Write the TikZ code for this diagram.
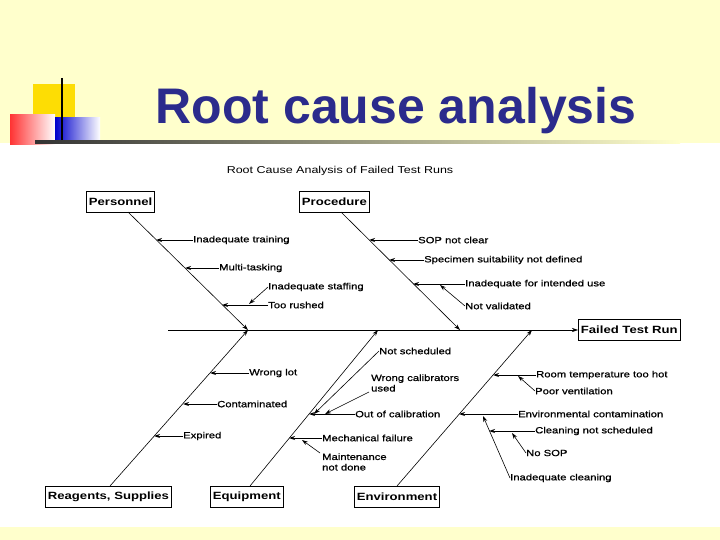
\documentclass[tikz,border=0pt]{standalone}
\usepackage{fontspec}
\setmainfont{Liberation Sans}
\newfontfamily\wide[FakeStretch=1.25]{Liberation Sans}
\newfontfamily\widelbl[FakeStretch=1.25,FakeBold=0.8]{Liberation Sans}
\usetikzlibrary{arrows.meta}
\definecolor{bgy}{HTML}{FFFFCC}
\definecolor{navy}{HTML}{2B2B8C}
\begin{document}
\begin{tikzpicture}[x=1pt,y=-1pt,
  box/.style={draw,thick,inner sep=2.5pt,font=\wide\bfseries\fontsize{10.5}{11}\selectfont,anchor=north west,minimum height=21pt},
  lbl/.style={font=\widelbl\fontsize{9}{10.5}\selectfont,inner sep=0pt,anchor=west,align=left},
  bone/.style={line width=0.6pt,-{Stealth[length=6pt,width=4pt]}},
  sub/.style={line width=1pt,-{Stealth[length=6pt,width=4pt]}}]
\useasboundingbox (0,0) rectangle (720,540);
\fill[bgy] (0,0) rectangle (720,540);
\fill[white] (0,143) rectangle (720,527);
% decoration
\fill[yellow!80!orange] (33,84) rectangle (75,120);
\shade[left color=red!80, right color=white] (10,115) rectangle (55,145);
\shade[left color=blue!80!black, right color=white] (55,118) rectangle (100,140);
\draw[line width=1.2pt] (62,78) -- (62,143);
\shade[left color=black!80, right color=bgy] (35,141) rectangle (680,143.5);
\node[font=\bfseries\fontsize{50}{54}\selectfont,text=navy] (title) at (396,111) {Root cause analysis};
\node[font=\wide\fontsize{10}{11}\selectfont] (sub) at (340,171) {Root Cause Analysis of Failed Test Runs};
% boxes
\node[box] (pers) at (86,191) {Personnel};
\node[box] (proc) at (299,191) {Procedure};
\node[box,anchor=west] (fail) at (578,330) {Failed Test Run};
\node[box] (reag) at (45,486) {Reagents, Supplies};
\node[box] (equi) at (210,486) {Equipment};
\node[box] (envi) at (354,486) {Environment};
% spine
\coordinate (s0) at (168,330);
\draw[bone] (s0) -- (fail.west);
\coordinate (j1) at (248,330);
\coordinate (j2) at (460,330);
\coordinate (j3) at (378,330);
\coordinate (j4) at (532,330);
\draw[bone] (128,212) -- (j1);
\draw[bone] (341,212) -- (j2);
\draw[bone] (110,486) -- (j1);
\draw[bone] (250,486) -- (j3);
\draw[bone] (397,486) -- (j4);
% Personnel
\node[lbl] (a1) at (193,240) {Inadequate training};
\draw[sub] (a1.west) -- (156,240);
\node[lbl] (a2) at (219,268) {Multi-tasking};
\draw[sub] (a2.west) -- (185,268);
\node[lbl] (a3) at (268,305) {Too rushed};
\draw[sub] (a3.west) -- (222,305);
\node[lbl] (a4) at (268,287) {Inadequate staffing};
\draw[sub,line width=0.6pt] (a4.west) -- (249,304);
% Procedure
\node[lbl] (b1) at (418,240) {SOP not clear};
\draw[sub] (b1.west) -- (369,240);
\node[lbl] (b2) at (424,260) {Specimen suitability not defined};
\draw[sub] (b2.west) -- (389,260);
\node[lbl] (b3) at (465,284) {Inadequate for intended use};
\draw[sub] (b3.west) -- (413,284);
\node[lbl] (b4) at (465,306) {Not validated};
\draw[sub,line width=0.6pt] (b4.west) -- (440,285);
% Reagents
\node[lbl] (c1) at (249,373) {Wrong lot};
\draw[sub] (c1.west) -- (210,373);
\node[lbl] (c2) at (217,404) {Contaminated};
\draw[sub] (c2.west) -- (183,404);
\node[lbl] (c3) at (183,436) {Expired};
\draw[sub] (c3.west) -- (154,436);
% Equipment
\node[lbl] (d1) at (379,351) {Not scheduled};
\draw[sub,line width=0.6pt] (d1.west) -- (314,414);
\node[lbl] (d2) at (371,383) {Wrong calibrators\\used};
\draw[sub,line width=0.6pt] (369,392) -- (325,414);
\node[lbl] (d3) at (355,414) {Out of calibration};
\draw[sub] (d3.west) -- (309,414);
\node[lbl] (d4) at (322,438) {Mechanical failure};
\draw[sub] (d4.west) -- (289,438);
\node[lbl] (d5) at (322,462) {Maintenance\\not done};
\draw[sub,line width=0.6pt] (320,453) -- (302,440);
% Environment
\node[lbl] (e1) at (536,375) {Room temperature too hot};
\draw[sub] (e1.west) -- (493,375);
\node[lbl] (e2) at (535,391) {Poor ventilation};
\draw[sub,line width=0.6pt] (e2.west) -- (518,376);
\node[lbl] (e3) at (518,414) {Environmental contamination};
\draw[sub] (e3.west) -- (459,414);
\node[lbl] (e4) at (535,431) {Cleaning not scheduled};
\draw[sub] (e4.west) -- (489,431);
\node[lbl] (e5) at (526,453) {No SOP};
\draw[sub,line width=0.6pt] (e5.west) -- (512,433);
\node[lbl] (e6) at (510,478) {Inadequate cleaning};
\draw[sub,line width=0.6pt] (e6.west) -- (483,416);
\end{tikzpicture}
\end{document}
